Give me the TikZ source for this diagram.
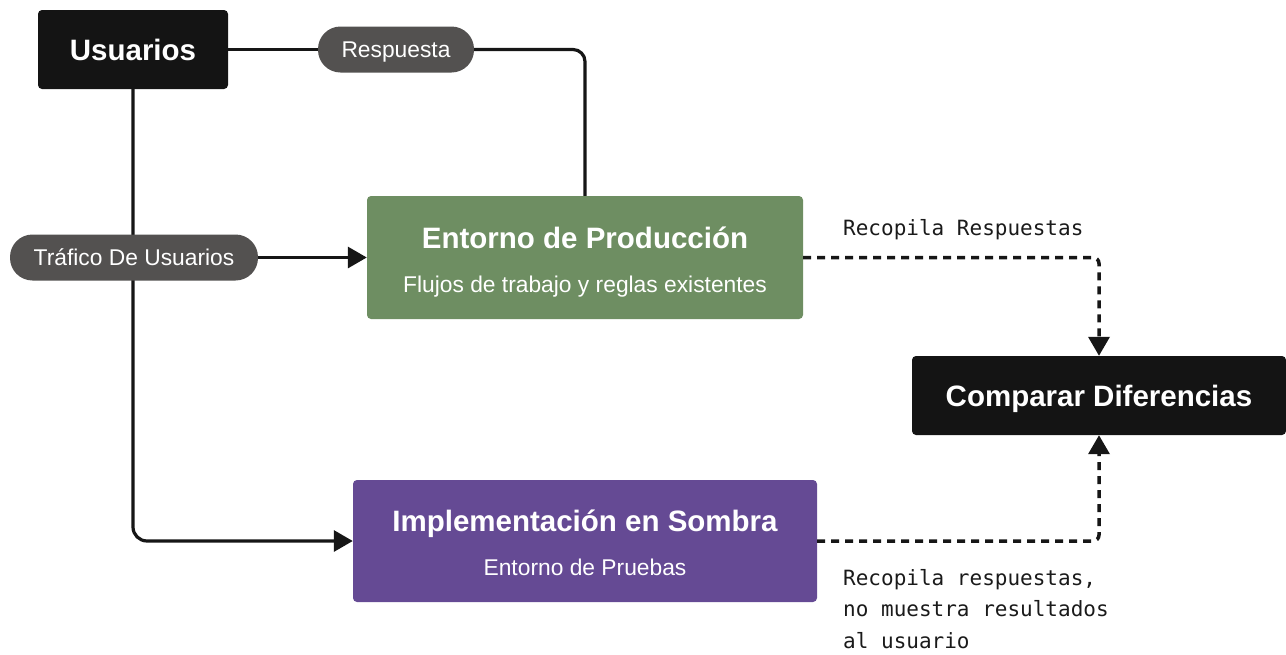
\documentclass[tikz,border=0pt]{standalone}
\usepackage{fontspec}
\setmainfont{Liberation Sans}
\newfontfamily\monof{DejaVu Sans Mono}
\usetikzlibrary{arrows.meta}
\definecolor{boxblack}{HTML}{141414}
\definecolor{pillgrey}{HTML}{535150}
\definecolor{prodgreen}{HTML}{6E8E62}
\definecolor{shadowpurple}{HTML}{654A94}
\definecolor{linecol}{HTML}{161616}
\definecolor{labelcol}{HTML}{1A1A1A}
\begin{document}
\begin{tikzpicture}[x=1pt,y=-1pt,
  darkbox/.style={fill=boxblack, rounded corners=4pt, inner sep=0pt, text=white,
    font=\fontsize{29.5}{34}\selectfont\bfseries, text height=21pt, text depth=0pt},
  procbox/.style={rounded corners=4pt, inner sep=0pt},
  titletext/.style={inner sep=0pt, text=white, font=\fontsize{29.5}{34}\selectfont\bfseries,
    text height=21pt, text depth=0pt},
  subtext/.style={inner sep=0pt, text=white, font=\fontsize{22.8}{27}\selectfont,
    text height=16pt, text depth=0pt},
  pill/.style={fill=pillgrey, rounded corners=22.5pt, inner sep=0pt, minimum height=46pt,
    text=white, font=\fontsize{22.8}{27}\selectfont, text height=16pt, text depth=0pt},
  monotext/.style={inner sep=0pt, text=labelcol, font=\monof\fontsize{21}{31.5}\selectfont},
  conn/.style={draw=linecol, line width=3.2pt},
  dconn/.style={draw=linecol, line width=3.5pt, dash pattern=on 8pt off 6pt, rounded corners=6pt},
  tip/.style={-{Triangle[length=19pt,width=21pt]}}
]
\useasboundingbox (0,0) rectangle (1286,654);

% boxes
\node[darkbox, minimum width=190pt, minimum height=79pt] (usu) at (133,49.5) {Usuarios};
\node[procbox, fill=prodgreen, minimum width=436pt, minimum height=123pt] (prod) at (585,257.5) {};
\node[titletext] (prodt) at (585,238) {Entorno de Producción};
\node[subtext] (prods) at (585,284) {Flujos de trabajo y reglas existentes};
\node[procbox, fill=shadowpurple, minimum width=464pt, minimum height=122pt] (shadow) at (585,541) {};
\node[titletext] (shadowt) at (585,521) {Implementación en Sombra};
\node[subtext] (shadows) at (585,567) {Entorno de Pruebas};
\node[darkbox, minimum width=374pt, minimum height=79pt] (comp) at (1099,395.5) {Comparar Diferencias};
\node[pill, minimum width=156pt] (resp) at (396,49.5) {Respuesta};

% connectors
\draw[conn] (usu.east) -- (resp.west);
\draw[conn, rounded corners=12pt] (resp.east) -| (prod.north);
\draw[conn, tip, rounded corners=14pt] (usu.south) |- (shadow.west);
\node[pill, minimum width=248pt] (traf) at (134,257.5) {Tráfico De Usuarios};
\draw[conn, tip] (traf.east) -- (prod.west);
\draw[dconn, tip] (prod.east) -| (comp.north);
\draw[dconn, tip] (shadow.east) -| (comp.south);

% labels
\node[monotext, anchor=base west] (lab1) at (843,235) {Recopila Respuestas};
\node[monotext, anchor=base west, align=left] (lab2) at (843,648) {Recopila respuestas,\\no muestra resultados\\al usuario};
\end{tikzpicture}
\end{document}
